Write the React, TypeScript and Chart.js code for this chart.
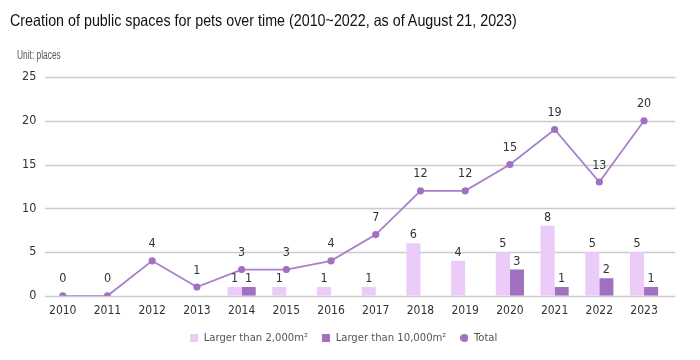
import React, { useEffect, useRef } from "react";
import { Chart, registerables } from "chart.js";

Chart.register(...registerables);

const years = ["2010", "2011", "2012", "2013", "2014", "2015", "2016", "2017", "2018", "2019", "2020", "2021", "2022", "2023"];
const larger2000 = [0, 0, 0, 0, 1, 1, 1, 1, 6, 4, 5, 8, 5, 5];
const larger10000 = [0, 0, 0, 0, 1, 0, 0, 0, 0, 0, 3, 1, 2, 1];
const totals = [0, 0, 4, 1, 3, 3, 4, 7, 12, 12, 15, 19, 13, 20];
const yMax = 25;
const yStep = 5;

const FONT = "'DejaVu Sans Condensed', 'Liberation Sans', sans-serif";
const HTML_FONT = "'Liberation Sans', Arial, sans-serif";
const LIGHT = "#EBCBF7";
const DARK = "#A170C1";
const LINE = "#A880C9";
const GRID = "#cbcbcb";

function circleImage(size: number, color: string) {
  const c = document.createElement("canvas");
  c.width = size;
  c.height = size;
  const cx = c.getContext("2d")!;
  cx.fillStyle = color;
  cx.beginPath();
  cx.arc(size / 2, size / 2, size / 2, 0, Math.PI * 2);
  cx.fill();
  return c;
}

const extendedGrid = {
  id: "extendedGrid",
  beforeDatasetsDraw(chart: any) {
    const { ctx, chartArea, scales } = chart;
    const y = scales.y;
    ctx.save();
    ctx.strokeStyle = GRID;
    ctx.lineWidth = 1.3;
    y.ticks.forEach((t: any) => {
      const py = Math.round(y.getPixelForValue(t.value)) + 0.5;
      ctx.beginPath();
      ctx.moveTo(chartArea.left + 4.5, py);
      ctx.lineTo(chartArea.right + 9, py);
      ctx.stroke();
    });
    ctx.restore();
  },
};

const valueLabels = {
  id: "valueLabels",
  afterDatasetsDraw(chart: any) {
    const ctx = chart.ctx;
    ctx.save();
    ctx.font = `12.5px ${FONT}`;
    ctx.fillStyle = "#333";
    ctx.textAlign = "center";
    ctx.textBaseline = "bottom";
    chart.data.datasets.forEach((ds: any, i: number) => {
      const meta = chart.getDatasetMeta(i);
      meta.data.forEach((el: any, j: number) => {
        const v = ds.data[j];
        if (ds.type === "line") {
          ctx.fillText(String(v), el.x, el.y - 10.5);
        } else if (v > 0) {
          ctx.fillText(String(v), el.x, el.y - 2);
        }
      });
    });
    ctx.restore();
  },
};

export default function App() {
  const ref = useRef<HTMLCanvasElement>(null);
  const titleRef = useRef<HTMLDivElement>(null);
  const unitRef = useRef<HTMLDivElement>(null);

  useEffect(() => {
    const fit = (el: HTMLDivElement | null, target: number) => {
      if (!el) return;
      const w = el.scrollWidth;
      if (w > 0) el.style.transform = `scaleX(${target / w})`;
    };
    fit(titleRef.current, 507);
    fit(unitRef.current, 44);
  }, []);

  useEffect(() => {
    if (!ref.current) return;
    const dot = circleImage(8, DARK);
    const chart = new Chart(ref.current, {
      type: "bar",
      data: {
        labels: years,
        datasets: [
          {
            type: "bar",
            label: "Larger than 2,000m²",
            data: larger2000,
            backgroundColor: LIGHT,
            pointStyle: "rect",
            categoryPercentage: 0.63,
            barPercentage: 1.0,
          } as any,
          {
            type: "bar",
            label: "Larger than 10,000m²",
            data: larger10000,
            backgroundColor: DARK,
            pointStyle: "rect",
            categoryPercentage: 0.63,
            barPercentage: 1.0,
          } as any,
          {
            type: "line",
            label: "Total",
            data: totals,
            borderColor: LINE,
            borderWidth: 1.8,
            backgroundColor: DARK,
            pointBackgroundColor: DARK,
            pointBorderWidth: 0,
            pointRadius: 3.6,
            pointStyle: "circle",
            tension: 0,
          } as any,
        ],
      },
      options: {
        responsive: false,
        animation: false,
        layout: { padding: { top: 77, left: 21, right: 33.6, bottom: 6.5 } },
        plugins: {
          tooltip: { enabled: false },
          title: { display: false },
          legend: {
            position: "bottom",
            labels: {
              usePointStyle: true,
              boxWidth: 8,
              boxHeight: 8,
              padding: 14,
              color: "#555",
              font: { family: FONT, size: 11.2 },
              generateLabels(chart: any) {
                const labels = Chart.defaults.plugins.legend.labels.generateLabels(chart);
                return labels.map((l: any) => {
                  if (l.text === "Total") {
                    l.pointStyle = dot;
                  } else {
                    l.lineWidth = 0;
                    l.strokeStyle = "rgba(0,0,0,0)";
                  }
                  return l;
                });
              },
            },
          },
        },
        scales: {
          x: {
            grid: { display: false, drawTicks: false },
            border: { display: false },
            ticks: { color: "#333", font: { family: FONT, size: 12 }, padding: 8 },
            afterFit: (s: any) => {
              s.height = 22.5;
            },
          },
          y: {
            min: 0,
            max: yMax,
            grid: { display: false, drawTicks: false },
            border: { display: false },
            ticks: { stepSize: yStep, color: "#333", font: { family: FONT, size: 12.5 }, padding: 4 },
            afterFit: (s: any) => {
              s.width = 19.4;
            },
          },
        },
      } as any,
      plugins: [extendedGrid, valueLabels],
    });
    return () => chart.destroy();
  }, []);

  return (
    <div style={{ position: "absolute", left: 0, top: 0, width: 700, height: 360, background: "#fff", overflow: "hidden" }}>
      <canvas ref={ref} width={700} height={360} style={{ position: "absolute", left: 0, top: 0 }} />
      <div
        ref={titleRef}
        style={{
          position: "absolute",
          left: 10,
          top: 10,
          fontFamily: HTML_FONT,
          fontSize: 16.5,
          lineHeight: "20px",
          color: "#111",
          whiteSpace: "nowrap",
          transformOrigin: "0 0",
        }}
      >
        Creation of public spaces for pets over time (2010~2022, as of August 21, 2023)
      </div>
      <div
        ref={unitRef}
        style={{
          position: "absolute",
          left: 17,
          top: 48,
          fontFamily: HTML_FONT,
          fontSize: 12,
          lineHeight: "15px",
          color: "#555",
          whiteSpace: "nowrap",
          transformOrigin: "0 0",
        }}
      >
        Unit: places
      </div>
    </div>
  );
}
